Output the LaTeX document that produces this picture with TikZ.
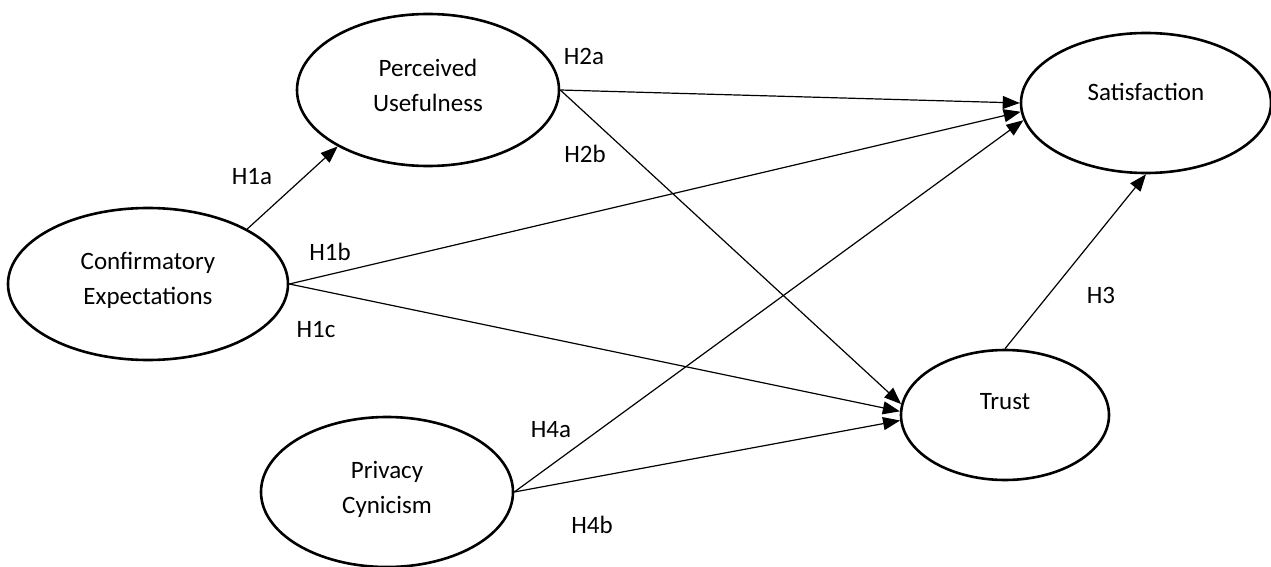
\documentclass[tikz,border=0pt]{standalone}
\usepackage{fontspec}
\setmainfont{Carlito}
\usetikzlibrary{shapes}
\usetikzlibrary{arrows.meta}

\begin{document}
\begin{tikzpicture}[
    x=1pt, y=-1pt,
    >={Triangle[length=17pt,width=13pt]},
    every node/.style={font=\fontsize{25}{35}\selectfont},
    every label/.style={align=center},
    construct/.style={draw, ellipse, line width=2.6pt, inner sep=0pt},
    hyp/.style={->, line width=1.2pt}
]
\useasboundingbox (0,0) rectangle (1271,567);

% constructs
\node[construct, minimum width=280pt, minimum height=152pt,
      label={[yshift=4pt]center:Confirmatory\\Expectations}] (ce) at (148,284) {};
\node[construct, minimum width=262pt, minimum height=152pt,
      label={[yshift=4.5pt]center:Perceived\\Usefulness}] (pu) at (428,90) {};
\node[construct, minimum width=252pt, minimum height=150pt,
      label={[yshift=2.5pt]center:Privacy\\Cynicism}] (pc) at (387,492) {};
\node[construct, minimum width=250pt, minimum height=140pt,
      label={[yshift=11pt]center:Satisfaction}] (sat) at (1146,103) {};
\node[construct, minimum width=208pt, minimum height=130pt,
      label={[yshift=13pt]center:Trust}] (trust) at (1005,415) {};

% hypothesised paths
\draw[hyp] (ce.29) -- (pu.212);
\draw[hyp] (pu.east) -- (sat.west);
\draw[hyp] (ce.east) -- (sat.184);
\draw[hyp] (pc.east) -- (sat.188);
\draw[hyp] (pu.east) -- (trust.174);
\draw[hyp] (ce.east) -- (trust.178);
\draw[hyp] (pc.east) -- (trust.183);
\draw[hyp] (trust.north) -- (sat.south);

% path labels
\node (h1a) at (252,177) {H1a};
\node (h1b) at (330,252) {H1b};
\node (h1c) at (316,330) {H1c};
\node (h2a) at (584,56) {H2a};
\node (h2b) at (585,154) {H2b};
\node (h3) at (1101,295) {H3};
\node (h4a) at (551,430) {H4a};
\node (h4b) at (592,525) {H4b};
\end{tikzpicture}
\end{document}
